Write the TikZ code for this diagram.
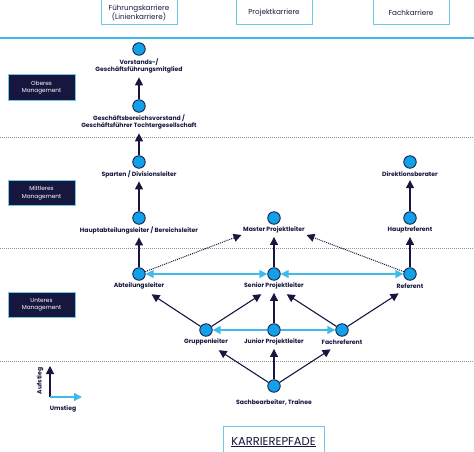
\documentclass[tikz,border=0pt]{standalone}
\usepackage{fontspec}
\setmainfont{Poppins}
\usetikzlibrary{arrows.meta}

\definecolor{navy}{RGB}{22,22,62}
\definecolor{dotblue}{RGB}{18,160,232}
\definecolor{umblue}{RGB}{64,186,234}
\definecolor{frameblue}{RGB}{110,200,230}

\tikzset{
  dot/.style={circle, draw=navy, fill=dotblue, line width=0.8pt, minimum size=12.5pt, inner sep=0pt},
  lbl/.style={font=\fontsize{6.1}{7.8}\selectfont\bfseries, text=navy, align=center, inner sep=1.5pt},
  kopf/.style={draw=frameblue, fill=white, line width=1pt, text=navy, align=center,
               minimum width=76pt, minimum height=25pt, inner sep=1pt,
               font=\fontsize{7.2}{9}\selectfont},
  ebene/.style={draw=frameblue, fill=navy, line width=1pt, text=white, align=center,
                minimum width=67pt, minimum height=25pt, inner sep=1pt,
                font=\fontsize{5.8}{7.5}\selectfont},
  aufstieg/.style={draw=navy, line width=1.1pt, -{Triangle[length=8pt,width=8pt]}, shorten >=2pt},
  umstieg/.style={draw=umblue, line width=1.4pt, -{Triangle[length=8pt,width=8pt]}},
  wechsel/.style={umstieg, {Triangle[length=8pt,width=8pt]}-{Triangle[length=8pt,width=8pt]}},
  option/.style={draw=navy, line width=1pt, densely dotted, -{Triangle[length=8pt,width=8pt]}},
  trenner/.style={draw=gray!85, line width=1pt, densely dotted}
}

\begin{document}
\begin{tikzpicture}[x=1pt, y=-1pt]
  \useasboundingbox (0,0) rectangle (474,452);

  % Kopfzeile
  \node[kopf] (fuehrung) at (139,12.5) {Führungskarriere\\(Linienkarriere)};
  \node[kopf] (projekt) at (274,12.5) {Projektkarriere};
  \node[kopf] (fach) at (411,12.5) {Fachkarriere};
  \draw[umblue, line width=2pt] (0,38) -- (474,38);

  % Ebenen
  \draw[trenner] (0,137) -- (474,137);
  \draw[trenner] (0,248) -- (474,248);
  \draw[trenner] (0,361) -- (474,361);
  \node[ebene] (oberes) at (41.5,87.5) {Oberes\\Management};
  \node[ebene] (mittleres) at (41.5,193) {Mittleres\\Management};
  \node[ebene] (unteres) at (41.5,305) {Unteres\\Management};

  % Fuehrungskarriere
  \node[dot] (vorstand) at (139,49) {};
  \node[lbl] (vorstandL) at (139,66) {Vorstands-/\\Geschäftsführungsmitglied};
  \node[dot] (gbv) at (139,106) {};
  \node[lbl] (gbvL) at (139,122) {Geschäftsbereichsvorstand /\\Geschäftsführer Tochtergesellschaft};
  \node[dot] (sparten) at (139,162) {};
  \node[lbl] (spartenL) at (139,174) {Sparten / Divisionsleiter};
  \node[dot] (hauptabt) at (139,218) {};
  \node[lbl] (hauptabtL) at (139,230) {Hauptabteilungsleiter / Bereichsleiter};
  \node[dot] (abt) at (139,274) {};
  \node[lbl] (abtL) at (139,286) {Abteilungsleiter};
  \node[dot] (gruppe) at (206,330) {};
  \node[lbl] (gruppeL) at (206,342) {Gruppenleiter};

  % Projektkarriere
  \node[dot] (master) at (274,218) {};
  \node[lbl] (masterL) at (274,230) {Master Projektleiter};
  \node[dot] (senior) at (274,274) {};
  \node[lbl] (seniorL) at (274,286) {Senior Projektleiter};
  \node[dot] (junior) at (274,330) {};
  \node[lbl] (juniorL) at (274,342) {Junior Projektleiter};
  \node[dot] (sachb) at (274,386) {};
  \node[lbl] (sachbL) at (274,402) {Sachbearbeiter, Trainee};

  % Fachkarriere
  \node[dot] (direktion) at (410,162) {};
  \node[lbl] (direktionL) at (410,174) {Direktionsberater};
  \node[dot] (hauptref) at (410,218) {};
  \node[lbl] (hauptrefL) at (410,230) {Hauptreferent};
  \node[dot] (referent) at (410,274) {};
  \node[lbl] (referentL) at (410,286) {Referent};
  \node[dot] (fachref) at (342,330) {};
  \node[lbl] (fachrefL) at (342,342) {Fachreferent};

  % Aufstieg
  \foreach \von/\nach in {gbv/vorstandL, sparten/gbvL, hauptabt/spartenL, abt/hauptabtL,
                          senior/masterL, referent/hauptrefL, hauptref/direktionL,
                          junior/seniorL, sachb/juniorL}
    \draw[aufstieg] (\von) -- (\nach);
  \foreach \von/\nach in {gruppe/abtL, gruppe/seniorL, fachref/seniorL, fachref/referentL,
                          sachb/gruppeL, sachb/fachrefL}
    \draw[aufstieg, shorten >=6pt] (\von) -- (\nach);

  % Umstieg
  \draw[wechsel] (abt) -- (senior);
  \draw[wechsel] (senior) -- (referent);
  \draw[umstieg] (junior) -- (gruppe);
  \draw[umstieg] (junior) -- (fachref);
  \draw[option] (abt) -- (masterL.south west);
  \draw[option] (referent) -- (masterL.south east);

  % Legende
  \coordinate (legO) at (50,397);
  \coordinate (legAuf) at (50,366);
  \coordinate (legUm) at (82,397);
  \draw[aufstieg, shorten >=0pt] (legO) -- (legAuf);
  \draw[umstieg] (legO) -- (legUm);
  \node[lbl, rotate=90] (aufL) at (40,381) {Aufstieg};
  \node[lbl] (umL) at (63,409) {Umstieg};

  \node[draw=frameblue, fill=white, line width=1pt, minimum width=101pt, minimum height=32pt,
        text=navy, font=\fontsize{11.5}{13}\selectfont] (titel) at (273.5,442) {\underline{KARRIEREPFADE}};
\end{tikzpicture}
\end{document}
